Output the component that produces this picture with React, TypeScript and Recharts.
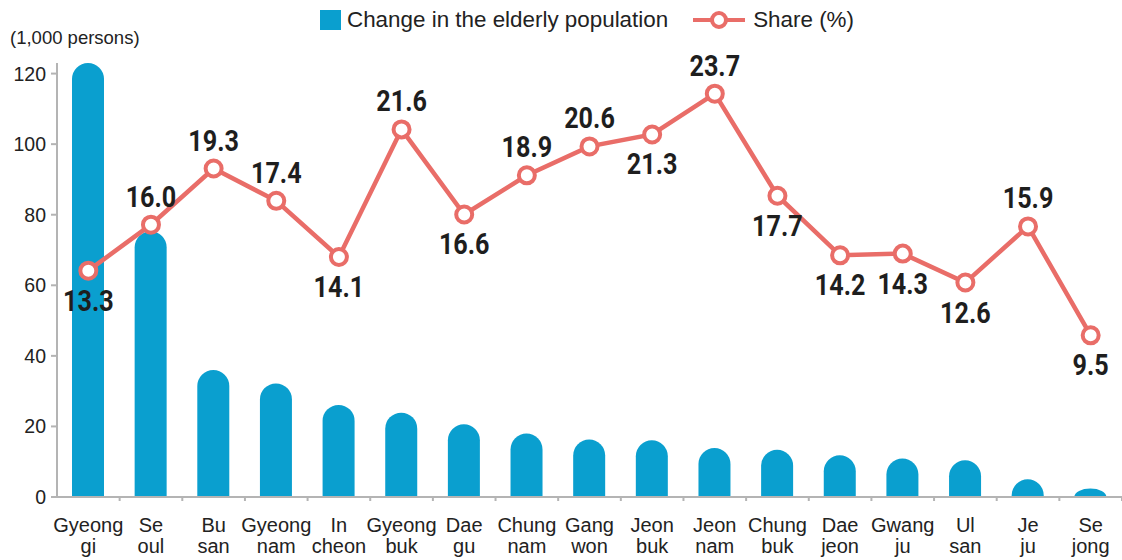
import React from 'react';
import { ComposedChart, Bar, Line, XAxis, YAxis } from 'recharts';

const regions = [
  'Gyeong\ngi', 'Se\noul', 'Bu\nsan', 'Gyeong\nnam', 'In\ncheon', 'Gyeong\nbuk',
  'Dae\ngu', 'Chung\nnam', 'Gang\nwon', 'Jeon\nbuk', 'Jeon\nnam', 'Chung\nbuk',
  'Dae\njeon', 'Gwang\nju', 'Ul\nsan', 'Je\nju', 'Se\njong',
];
const elderlyChange = [123, 75.3, 36, 32.2, 26.1, 23.9, 20.6, 18, 16.3, 16.1, 13.9, 13.4, 11.8, 10.9, 10.4, 5, 2.4];
const shares = [13.3, 16.0, 19.3, 17.4, 14.1, 21.6, 16.6, 18.9, 20.6, 21.3, 23.7, 17.7, 14.2, 14.3, 12.6, 15.9, 9.5];
// where each share label sits relative to its point
const labelSide = ['below', 'above', 'above', 'above', 'below', 'above', 'below', 'above', 'above', 'below', 'above', 'below', 'below', 'below', 'below', 'above', 'below'];
const leftTicks = [0, 20, 40, 60, 80, 100, 120];

const data = regions.map((name, i) => ({
  name,
  change: elderlyChange[i],
  share: shares[i],
}));

const W = 1122;
const H = 560;
const Y_AXIS_W = 57;
const BAR_COLOR = '#0a9fcf';
const LINE_COLOR = '#e96d68';
const AXIS_COLOR = '#b4b4b4';
const TEXT_FONT = "'Liberation Sans', Arial, sans-serif";
const LABEL_FONT = "Roboto, 'DejaVu Sans', sans-serif";
const halfBand = (W - Y_AXIS_W) / regions.length / 2;

// bar with a round top; short bars get a flatter dome
const DomeBar = (props: any) => {
  const { x, y, width, height, fill } = props;
  if (!height || height <= 0) return null;
  const rx = width / 2;
  const ry = Math.min(rx, height);
  const bottom = y + height;
  const d = `M${x},${bottom} L${x},${y + ry} A${rx},${ry} 0 0 1 ${x + width},${y + ry} L${x + width},${bottom} Z`;
  return <path d={d} fill={fill} />;
};

const RegionTick = (props: any) => {
  const { x, y, payload } = props;
  const [l1, l2] = String(payload.value).split('\n');
  return (
    <g>
      <line x1={x + halfBand} x2={x + halfBand} y1={y} y2={y + 4} stroke={AXIS_COLOR} strokeWidth={2} />
      <text x={x} y={y + 35} textAnchor="middle" fontFamily={TEXT_FONT} fontSize={20} fill="#222">
        {l1}
      </text>
      <text x={x} y={y + 56} textAnchor="middle" fontFamily={TEXT_FONT} fontSize={20} fill="#222">
        {l2}
      </text>
    </g>
  );
};

const ShareLabel = (props: any) => {
  const { x, y, value, index } = props;
  const below = labelSide[index] === 'below';
  const ty = below ? y + 40 : y - 18;
  return (
    <text
      transform={`translate(${x},${ty}) scale(0.84,1)`}
      textAnchor="middle"
      fontFamily={LABEL_FONT}
      fontWeight="bold"
      fontSize={30}
      fill="#1e1e1e"
    >
      {Number(value).toFixed(1)}
    </text>
  );
};

const UnitLabel = (props: any) => {
  const { viewBox } = props;
  return (
    <text x={10} y={viewBox.y - 19} fontFamily={TEXT_FONT} fontSize={18.5} fill="#222">
      (1,000 persons)
    </text>
  );
};

const LegendBar = () => (
  <div
    style={{
      position: 'absolute',
      top: 7,
      left: 320,
      display: 'flex',
      alignItems: 'center',
      fontFamily: TEXT_FONT,
      fontSize: 22.4,
      color: '#222',
      whiteSpace: 'nowrap',
    }}
  >
    <span style={{ width: 21, height: 20, background: BAR_COLOR, display: 'inline-block', marginRight: 6 }} />
    <span>Change in the elderly population</span>
    <svg width={52} height={24} style={{ marginLeft: 25, marginRight: 8 }}>
      <line x1={0} x2={52} y1={12} y2={12} stroke={LINE_COLOR} strokeWidth={4} />
      <circle cx={26} cy={12} r={7} fill="#fff" stroke={LINE_COLOR} strokeWidth={4} />
    </svg>
    <span>Share (%)</span>
  </div>
);

export default function App() {
  return (
    <div style={{ position: 'fixed', left: 0, top: 0, width: W, height: H, background: '#fff' }}>
      <LegendBar />
      <ComposedChart width={W} height={H} data={data} margin={{ top: 63, right: 0, bottom: 3, left: 0 }}>
        <XAxis
          dataKey="name"
          axisLine={{ stroke: AXIS_COLOR, strokeWidth: 2 }}
          tickLine={false}
          tickSize={0}
          tickMargin={0}
          height={60}
          interval={0}
          tick={<RegionTick />}
        />
        <YAxis
          yAxisId="left"
          width={Y_AXIS_W}
          domain={[0, 123]}
          ticks={leftTicks}
          axisLine={{ stroke: AXIS_COLOR, strokeWidth: 2 }}
          tickLine={{ stroke: AXIS_COLOR, strokeWidth: 2 }}
          tickSize={6}
          tickMargin={5}
          tick={{ fontFamily: TEXT_FONT, fontSize: 19.5, fill: '#222' }}
          label={<UnitLabel />}
        />
        <YAxis yAxisId="right" orientation="right" hide domain={[0, 25.5]} />
        <Bar
          yAxisId="left"
          dataKey="change"
          fill={BAR_COLOR}
          barSize={32}
          shape={<DomeBar />}
          isAnimationActive={false}
        />
        <Line
          yAxisId="right"
          dataKey="share"
          stroke={LINE_COLOR}
          strokeWidth={4.5}
          dot={{ r: 8, fill: '#fff', stroke: LINE_COLOR, strokeWidth: 4 }}
          activeDot={false}
          label={<ShareLabel />}
          isAnimationActive={false}
        />
      </ComposedChart>
    </div>
  );
}
